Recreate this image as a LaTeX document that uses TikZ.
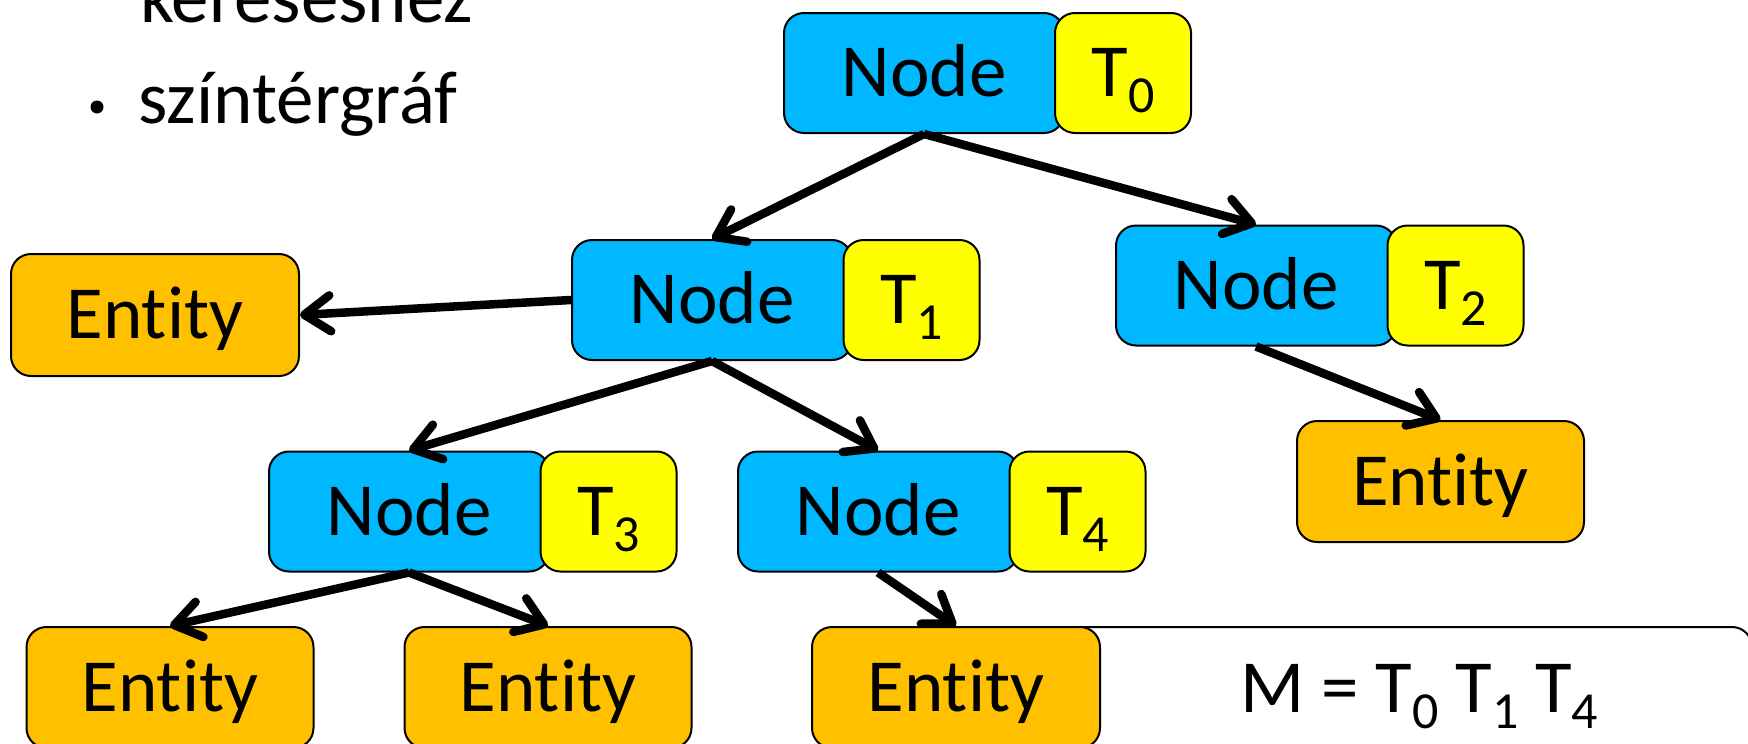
\documentclass[tikz,border=0pt]{standalone}
\usepackage{fontspec}
\setmainfont[Ligatures=NoCommon]{Carlito}
\usetikzlibrary{arrows.meta}
\definecolor{nodeblue}{HTML}{00B8FF}
\definecolor{tyellow}{HTML}{FFFF00}
\definecolor{entorange}{HTML}{FFC000}
% lowered, smaller index after a transform name
\newcommand\tsub[1]{\raisebox{-16pt}{\fontsize{52}{52}\selectfont #1}}
% word set without the t-i ligature
\newcommand\entityword{Ent\kern0pt ity}

\begin{document}
\begin{tikzpicture}[x=1pt,y=-1pt,
  bigtext/.style={font=\fontsize{75}{90}\selectfont},
  box/.style={draw=black, line width=2pt, rounded corners=20pt, inner sep=0pt,
    minimum height=120pt, text height=47.5pt, text depth=0pt, bigtext},
  nodebox/.style={box, fill=nodeblue, minimum width=280pt},
  tbox/.style={box, fill=tyellow, minimum width=136pt},
  entbox/.style={box, fill=entorange, minimum width=287pt, minimum height=121pt},
  link/.style={line width=8.5pt, -{Straight Barb[length=26pt,width=36pt,round]}}
]
\useasboundingbox (0,0) rectangle (1748,744);

% bullet list text
\node[anchor=base west, inner sep=0pt, bigtext] (kw) at (140,23) {kereséshez};
\node[circle, fill=black, minimum size=13pt, inner sep=0pt] (bullet) at (97,107) {};
\node[anchor=base west, inner sep=0pt, bigtext] (sz) at (138,123) {színtérgráf};

% scene graph: nodes with their transforms
\node[nodebox] (n0) at (924,73) {Node};
\node[tbox] (t0) at (1123,73) {T\tsub{0}};
\node[nodebox] (n1) at (712,300) {Node};
\node[tbox] (t1) at (911.5,300) {T\tsub{1}};
\node[nodebox] (n2) at (1256,285.5) {Node};
\node[tbox] (t2) at (1455.5,285.5) {T\tsub{2}};
\node[nodebox] (n3) at (409,511.5) {Node};
\node[tbox] (t3) at (608.5,511.5) {T\tsub{3}};
\node[nodebox] (n4) at (878,511.5) {Node};
\node[tbox] (t4) at (1077.5,511.5) {T\tsub{4}};

% composed model matrix panel
\node[draw=black, line width=2pt, rounded corners=20pt, fill=white,
  minimum width=802pt, minimum height=193pt, inner sep=0pt] (mbox) at (1351,723.5) {};
\node[anchor=base west, inner sep=0pt, bigtext] (mtext) at (1240,712)
  {M = T\tsub{0} T\tsub{1} T\tsub{4}};

% entities
\node[entbox, minimum width=288pt, minimum height=122pt] (eL) at (155,315) {\entityword};
\node[entbox] (eR) at (1440.5,481.5) {\entityword};
\node[entbox] (eA) at (170,687.5) {\entityword};
\node[entbox] (eB) at (548,687.5) {\entityword};
\node[entbox, minimum width=288pt] (eC) at (956,687.5) {\entityword};

% parent-child links
\draw[link] (n0.south) -- (n1.north);
\draw[link] (n0.south) -- (n2.north);
\draw[link] (n1.west) -- (eL.east);
\draw[link] (n1.south) -- (n3.north);
\draw[link] (n1.south) -- (n4.north);
\draw[link] (n2.south) -- (eR.north);
\draw[link] (n3.south) -- (eA.north);
\draw[link] (n3.south) -- (eB.north);
\draw[link] (n4.south) -- (eC.north);
\end{tikzpicture}
\end{document}
